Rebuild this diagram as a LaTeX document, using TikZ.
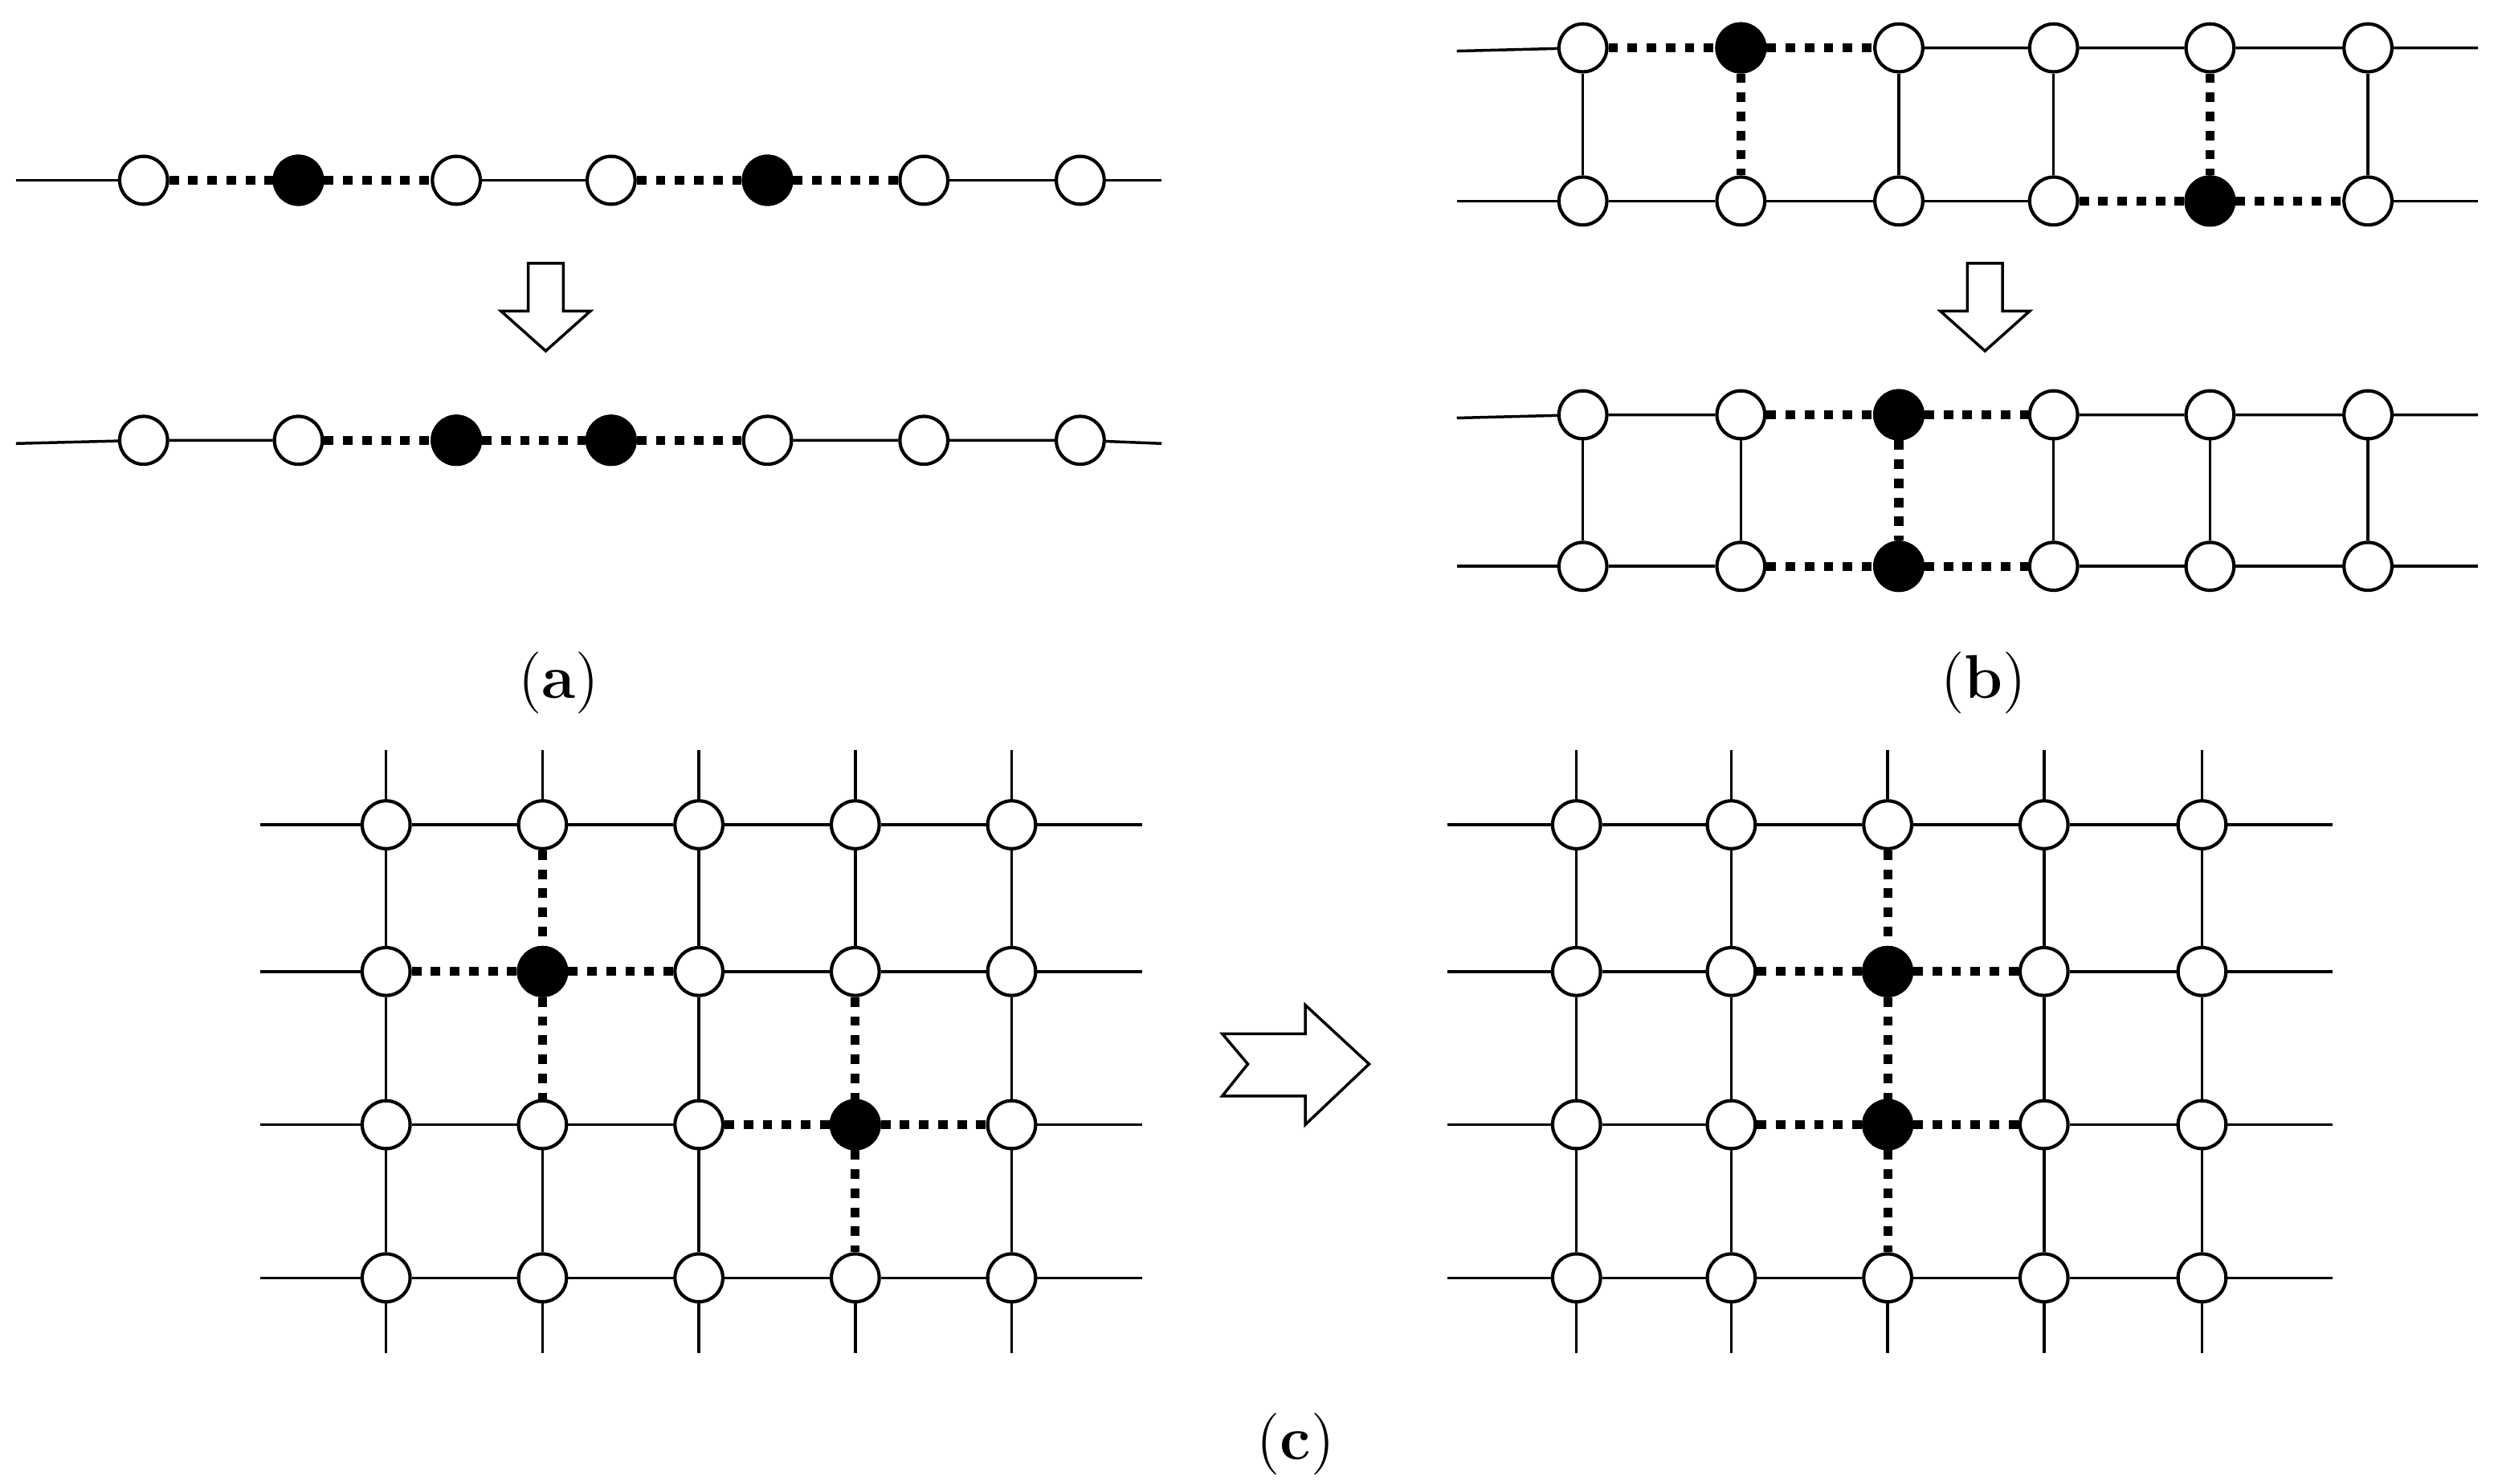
\documentclass[tikz,border=0pt]{standalone}
\usetikzlibrary{backgrounds}
\begin{document}
\begin{tikzpicture}[x={(0.01cm,0)},y={(0,-0.01cm)},
  st/.style={circle,draw,fill=white,line width=0.6pt,minimum size=0.3cm,inner sep=0pt},
  bk/.style={st,fill=black},
  ln/.style={line width=0.5pt},
  dt/.style={line width=1.6pt,dash pattern=on 1.7pt off 1.7pt},
  ar/.style={draw,line width=0.5pt,fill=white},
  lab/.style={font=\fontsize{11pt}{13pt}\selectfont}]
\useasboundingbox (0,0) rectangle (1563,930);
% ---------- (a)
\foreach \x [count=\i] in {90,187,286,383,481,579,677}{\node[st] (a\i) at (\x,113) {};}
\foreach \x [count=\i] in {90,187,286,383,481,579,677}{\node[st] (A\i) at (\x,276) {};}
\node[bk] at (a2) {}; \node[bk] at (a5) {};
\node[bk] at (A3) {}; \node[bk] at (A4) {};
\coordinate (al) at (10,113); \coordinate (ar) at (728,113);
\coordinate (Al) at (10,278); \coordinate (Ar) at (728,278);
\begin{scope}[on background layer]
\draw[ln] (al)--(a1) (a3)--(a4) (a6)--(a7)--(ar);
\draw[dt] (a1)--(a2)--(a3) (a4)--(a5)--(a6);
\draw[ln] (Al)--(A1)--(A2) (A5)--(A6)--(A7)--(Ar);
\draw[dt] (A2)--(A3)--(A4)--(A5);
\end{scope}
\draw[ar] (331,165)--(353,165)--(353,195)--(370,195)--(342,220)--(314,195)--(331,195)--cycle;
\node[lab] (la) at (350,428) {(\textbf{a})};
% ---------- (b)
\foreach \x [count=\i] in {992,1091,1190,1287,1385,1484}{
  \node[st] (bt\i) at (\x,30) {}; \node[st] (bb\i) at (\x,126) {};
  \node[st] (Bt\i) at (\x,260) {}; \node[st] (Bb\i) at (\x,355) {};}
\node[bk] at (bt2) {}; \node[bk] at (bb5) {};
\node[bk] at (Bt3) {}; \node[bk] at (Bb3) {};
\coordinate (btl) at (913,32); \coordinate (btr) at (1553,30);
\coordinate (bbl) at (913,126); \coordinate (bbr) at (1553,126);
\coordinate (Btl) at (913,262); \coordinate (Btr) at (1553,260);
\coordinate (Bbl) at (913,355); \coordinate (Bbr) at (1553,355);
\begin{scope}[on background layer]
\draw[ln] (btl)--(bt1) (bt3)--(bt4)--(bt5)--(bt6)--(btr);
\draw[dt] (bt1)--(bt2)--(bt3) (bt2)--(bb2) (bb4)--(bb5)--(bb6) (bt5)--(bb5);
\draw[ln] (bbl)--(bb1)--(bb2)--(bb3)--(bb4) (bb6)--(bbr);
\foreach \i in {1,3,4,6}{\draw[ln] (bt\i)--(bb\i);}
\draw[ln] (Btl)--(Bt1)--(Bt2) (Bt4)--(Bt5)--(Bt6)--(Btr);
\draw[ln] (Bbl)--(Bb1)--(Bb2) (Bb4)--(Bb5)--(Bb6)--(Bbr);
\draw[dt] (Bt2)--(Bt3)--(Bt4) (Bb2)--(Bb3)--(Bb4) (Bt3)--(Bb3);
\foreach \i in {1,2,4,5,6}{\draw[ln] (Bt\i)--(Bb\i);}
\end{scope}
\draw[ar] (1233,165)--(1255,165)--(1255,195)--(1272,195)--(1244,220)--(1216,195)--(1233,195)--cycle;
\node[lab] (lb) at (1243,428) {(\textbf{b})};
% ---------- (c)
\foreach \y [count=\r] in {517,609,705,801}{
  \foreach \x [count=\c] in {242,340,438,536,634}{\node[st] (L\r\c) at (\x,\y) {};}
  \foreach \x [count=\c] in {988,1085,1183,1281,1380}{\node[st] (R\r\c) at (\x,\y) {};}
  \coordinate (Ll\r) at (163,\y); \coordinate (Lr\r) at (716,\y);
  \coordinate (Rl\r) at (907,\y); \coordinate (Rr\r) at (1462,\y);}
\foreach \c in {1,...,5}{
  \path (L1\c) ++(0,-47) coordinate (Lt\c); \path (L4\c) ++(0,47) coordinate (Lb\c);
  \path (R1\c) ++(0,-47) coordinate (Rt\c); \path (R4\c) ++(0,47) coordinate (Rb\c);}
\node[bk] at (L22) {}; \node[bk] at (L34) {};
\node[bk] at (R23) {}; \node[bk] at (R33) {};
\begin{scope}[on background layer]
% left horizontals
\draw[ln] (Ll1)--(L11)--(L12)--(L13)--(L14)--(L15)--(Lr1);
\draw[ln] (Ll2)--(L21) (L23)--(L24)--(L25)--(Lr2);
\draw[dt] (L21)--(L22)--(L23);
\draw[ln] (Ll3)--(L31)--(L32)--(L33) (L35)--(Lr3);
\draw[dt] (L33)--(L34)--(L35);
\draw[ln] (Ll4)--(L41)--(L42)--(L43)--(L44)--(L45)--(Lr4);
% left verticals
\foreach \c in {1,3,5}{\draw[ln] (Lt\c)--(L1\c)--(L2\c)--(L3\c)--(L4\c)--(Lb\c);}
\draw[ln] (Lt2)--(L12) (L32)--(L42)--(Lb2);
\draw[dt] (L12)--(L22)--(L32);
\draw[ln] (Lt4)--(L14)--(L24) (L44)--(Lb4);
\draw[dt] (L24)--(L34)--(L44);
% right horizontals
\draw[ln] (Rl1)--(R11)--(R12)--(R13)--(R14)--(R15)--(Rr1);
\draw[ln] (Rl2)--(R21)--(R22) (R24)--(R25)--(Rr2);
\draw[dt] (R22)--(R23)--(R24);
\draw[ln] (Rl3)--(R31)--(R32) (R34)--(R35)--(Rr3);
\draw[dt] (R32)--(R33)--(R34);
\draw[ln] (Rl4)--(R41)--(R42)--(R43)--(R44)--(R45)--(Rr4);
% right verticals
\foreach \c in {1,2,4,5}{\draw[ln] (Rt\c)--(R1\c)--(R2\c)--(R3\c)--(R4\c)--(Rb\c);}
\draw[ln] (Rt3)--(R13) (R43)--(Rb3);
\draw[dt] (R13)--(R23)--(R33)--(R43);
\end{scope}
\draw[ar] (766,648)--(818,648)--(818,630)--(858,667)--(818,705)--(818,687)--(766,687)--(782,667)--cycle;
\node[lab] (lc) at (812,905) {(\textbf{c})};
\end{tikzpicture}
\end{document}
